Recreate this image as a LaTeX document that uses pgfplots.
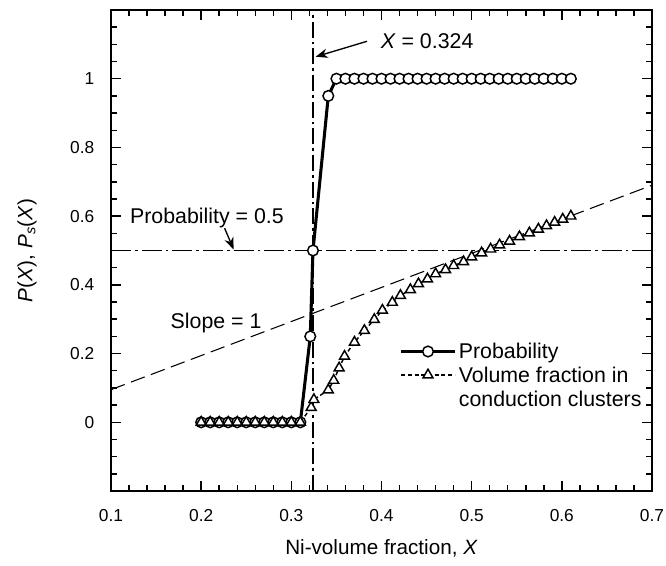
\documentclass[border=0pt]{standalone}
\usepackage{fontspec}
\setmainfont{Liberation Sans}
\usepackage{pgfplots}
\pgfplotsset{compat=1.18}
\usetikzlibrary{arrows.meta}

\begin{document}
\begin{tikzpicture}
\useasboundingbox (-83.25pt,-55.5pt) rectangle (416.25pt,368.25pt);
\begin{axis}[
  at={(0,0)}, anchor=south west,
  width=405.75pt, height=360.75pt, scale only axis,
  xmin=0.1, xmax=0.7, ymin=-0.2, ymax=1.2,
  xtick={0.1,0.2,0.3,0.4,0.5,0.6,0.7},
  ytick={0,0.2,0.4,0.6,0.8,1},
  minor xtick={0.12,0.14,0.16,0.18,0.22,0.24,0.26,0.28,0.32,0.34,0.36,0.38,0.42,0.44,0.46,0.48,0.52,0.54,0.56,0.58,0.62,0.64,0.66,0.68},
  minor ytick={-0.15,-0.1,-0.05,0.05,0.1,0.15,0.25,0.3,0.35,0.45,0.5,0.55,0.65,0.7,0.75,0.85,0.9,0.95,1.05,1.1,1.15},
  tick align=inside,
  major tick length=7.5pt, minor tick length=4.5pt,
  every tick/.style={black, line width=1.1pt},
  axis line style={line width=1.5pt},
  ticklabel style={font=\fontsize{13}{15}\selectfont},
  /pgf/number format/assume math mode=true,
  xticklabel shift=10pt, yticklabel shift=9pt,
  xlabel={Ni-volume fraction, \textit{X}},
  ylabel={\textit{P}(\textit{X}), \textit{P}\textsubscript{\textit{s}}(\textit{X})},
  label style={font=\fontsize{15.5}{18}\selectfont},
  xlabel style={at={(axis description cs:0.5,-0.1185)}, anchor=center},
  ylabel style={at={(axis description cs:-0.155,0.5)}, anchor=center},
  legend style={draw=none, fill=none, at={(axis cs:0.42,0.24)}, anchor=north west,
    font=\fontsize{16}{18}\selectfont, inner sep=0pt, row sep=0pt},
  legend cell align=left,
  legend image code/.code={\draw[mark repeat=2,mark phase=2] plot coordinates {(0pt,0pt) (20pt,0pt) (40pt,0pt)};},
]
% reference lines
\addplot[forget plot, black, line width=1pt, dash pattern=on 15pt off 3pt on 2pt off 3pt] coordinates {(0.1,0.5) (0.7,0.5)};
\addplot[forget plot, black, line width=1pt, dash pattern=on 12pt off 3pt on 2pt off 3pt] coordinates {(0.324,-0.2) (0.324,1.2)};
\addplot[forget plot, black, line width=0.8pt, dash pattern=on 11pt off 5pt] coordinates {(0.1,0.095) (0.7,0.69)};

% Probability
\addplot[black, line width=2.3pt, mark=*, mark size=4pt, mark options={solid, fill=white, line width=1.1pt}]
coordinates {
(0.20,0) (0.21,0) (0.22,0) (0.23,0) (0.24,0) (0.25,0) (0.26,0) (0.27,0) (0.28,0) (0.29,0) (0.30,0) (0.31,0)
(0.321,0.25) (0.324,0.5) (0.341,0.95)
(0.35,1) (0.36,1) (0.37,1) (0.38,1) (0.39,1) (0.40,1) (0.41,1) (0.42,1) (0.43,1) (0.44,1)
(0.45,1) (0.46,1) (0.47,1) (0.48,1) (0.49,1) (0.50,1) (0.51,1) (0.52,1) (0.53,1) (0.54,1)
(0.55,1) (0.56,1) (0.57,1) (0.58,1) (0.59,1) (0.60,1) (0.61,1)
};
\addlegendentry{Probability}

% Volume fraction in conduction clusters
\addplot[black, line width=1.1pt, dash pattern=on 3pt off 2pt, mark=triangle*, mark size=4.3pt, mark options={solid, fill=white, line width=1.1pt}]
coordinates {
(0.20,0) (0.21,0) (0.22,0) (0.23,0) (0.24,0) (0.25,0) (0.26,0) (0.27,0) (0.28,0) (0.29,0) (0.30,0) (0.31,0)
(0.322,0.043) (0.325,0.066) (0.341,0.094) (0.347,0.122) (0.353,0.158) (0.359,0.192)
(0.37,0.233) (0.381,0.267) (0.392,0.299) (0.401,0.326) (0.412,0.349) (0.421,0.369)
(0.432,0.386) (0.441,0.403) (0.451,0.417) (0.46,0.432) (0.471,0.444) (0.48,0.456)
(0.491,0.467) (0.50,0.481) (0.511,0.493) (0.521,0.504) (0.531,0.516) (0.542,0.527)
(0.553,0.540) (0.564,0.551) (0.574,0.562) (0.583,0.572) (0.592,0.582) (0.601,0.591) (0.61,0.600)
};
\addlegendentry{\begin{tabular}[t]{@{}l@{}}Volume fraction in\\conduction clusters\end{tabular}}

% annotations
\node[anchor=west, font=\fontsize{16}{18}\selectfont] at (axis cs:0.394,1.11) {\textit{X} = 0.324};
\draw[line width=1pt, -{Stealth[length=9pt,width=7pt]}] (axis cs:0.384,1.109) -- (axis cs:0.327,1.064);
\node[anchor=west, font=\fontsize{16}{18}\selectfont] at (axis cs:0.116,0.595) {Probability = 0.5};
\draw[line width=1pt, -{Stealth[length=9pt,width=7pt]}] (axis cs:0.226,0.565) -- (axis cs:0.236,0.503);
\node[anchor=west, font=\fontsize{16}{18}\selectfont] at (axis cs:0.161,0.29) {Slope = 1};
\end{axis}
\end{tikzpicture}
\end{document}
